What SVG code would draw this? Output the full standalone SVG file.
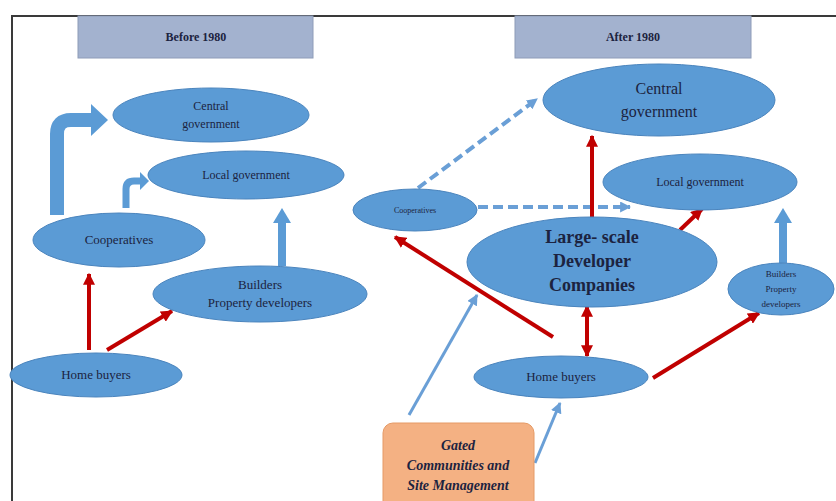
<svg xmlns="http://www.w3.org/2000/svg" width="836" height="501" viewBox="0 0 836 501">
<style>
.node{fill:#5b9bd5;stroke:#4a84bd;stroke-width:1}
.hdr{fill:#a3b2cf;stroke:#8e9cb8;stroke-width:1}
.t{font-family:"Liberation Serif",serif;fill:#1c2340;text-anchor:middle}
.red{stroke:#c00000;fill:none;stroke-width:4}
.blk{fill:none;stroke:#5b9bd5}
.dash{fill:none;stroke:#6a9fd6;stroke-width:4;stroke-dasharray:10 5}
.thin{fill:none;stroke:#6a9fd6;stroke-width:3}
</style>
<defs>
<marker id="ar" viewBox="0 0 10 10" refX="9" refY="5" markerWidth="12" markerHeight="12" markerUnits="userSpaceOnUse" orient="auto-start-reverse"><path d="M0,0 L10,5 L0,10 z" fill="#c00000"/></marker>
<marker id="ab" viewBox="0 0 10 10" refX="9" refY="5" markerWidth="11" markerHeight="11" markerUnits="userSpaceOnUse" orient="auto"><path d="M0,0 L10,5 L0,10 z" fill="#6a9fd6"/></marker>
</defs>
<rect width="836" height="501" fill="#ffffff"/>
<path d="M12,501 V16 H836" fill="none" stroke="#3a3a3a" stroke-width="2"/>

<g id="hdr-before"><rect class="hdr" x="78" y="16" width="235" height="42"/><text class="t" x="196" y="41" font-size="12" font-weight="bold">Before 1980</text></g>
<g id="hdr-after"><rect class="hdr" x="515" y="16" width="236" height="42"/><text class="t" x="633" y="41" font-size="12" font-weight="bold">After 1980</text></g>

<g id="connectors">
<!-- left blue block arrows -->
<path class="blk" stroke-width="14" d="M57,215 V134 Q57,120 71,120 H93"/>
<polygon points="91,104 108,120 91,136" fill="#5b9bd5"/>
<path class="blk" stroke-width="7" d="M126,208 V189 Q126,181 134,181 H141"/>
<polygon points="140,172 149,181 140,190" fill="#5b9bd5"/>
<path class="blk" stroke-width="8" d="M282,266 V221"/>
<polygon points="273,223 282,208 291,223" fill="#5b9bd5"/>
<!-- left red -->
<line class="red" x1="89" y1="350" x2="89" y2="274" marker-end="url(#ar)"/>
<line class="red" x1="107" y1="350" x2="172" y2="311" marker-end="url(#ar)"/>
<!-- right -->
<line class="dash" x1="418" y1="188" x2="537" y2="99" marker-end="url(#ab)"/>
<line class="dash" x1="478" y1="207" x2="630" y2="207" marker-end="url(#ab)"/>
<line class="red" stroke-width="5" x1="592" y1="218" x2="592" y2="136" marker-end="url(#ar)"/>
<line class="red" stroke-width="5" x1="680" y1="230" x2="702" y2="209" marker-end="url(#ar)"/>
<path class="blk" stroke-width="8" d="M783,263 V221"/>
<polygon points="774,223 783,208 792,223" fill="#5b9bd5"/>
<line class="red" stroke-width="5" x1="553" y1="337" x2="395" y2="237" marker-end="url(#ar)"/>
<line class="red" stroke-width="3" x1="587" y1="306" x2="587" y2="356" marker-start="url(#ar)" marker-end="url(#ar)"/>
<line class="red" stroke-width="5" x1="653" y1="378" x2="759" y2="313" marker-end="url(#ar)"/>
<line class="thin" x1="409" y1="415" x2="477" y2="295" marker-end="url(#ab)"/>
<line class="thin" x1="535" y1="463" x2="560" y2="403" marker-end="url(#ab)"/>
</g>

<g id="l-central"><ellipse class="node" cx="211" cy="115" rx="98" ry="27"/><text class="t" x="211" y="110" font-size="12">Central</text><text class="t" x="211" y="128" font-size="12">government</text></g>
<g id="l-local"><ellipse class="node" cx="246" cy="175" rx="98" ry="24"/><text class="t" x="246" y="179" font-size="12">Local government</text></g>
<g id="l-coop"><ellipse class="node" cx="119" cy="240" rx="86" ry="27"/><text class="t" x="119" y="244" font-size="13">Cooperatives</text></g>
<g id="l-builders"><ellipse class="node" cx="260" cy="294" rx="107" ry="28"/><text class="t" x="260" y="289" font-size="13">Builders</text><text class="t" x="260" y="307" font-size="13">Property developers</text></g>
<g id="l-home"><ellipse class="node" cx="96" cy="375" rx="86" ry="22"/><text class="t" x="96" y="379" font-size="13">Home buyers</text></g>

<g id="r-central"><ellipse class="node" cx="659" cy="100" rx="116" ry="36"/><text class="t" x="659" y="94" font-size="16">Central</text><text class="t" x="659" y="117" font-size="16">government</text></g>
<g id="r-local"><ellipse class="node" cx="700" cy="182" rx="97" ry="28"/><text class="t" x="700" y="186" font-size="12">Local government</text></g>
<g id="r-coop"><ellipse class="node" cx="415" cy="210" rx="62" ry="21"/><text class="t" x="415" y="213" font-size="8">Cooperatives</text></g>
<g id="r-large"><ellipse class="node" cx="592" cy="262" rx="125" ry="45"/><text class="t" x="592" y="243" font-size="18" font-weight="bold">Large- scale</text><text class="t" x="592" y="267" font-size="18" font-weight="bold">Developer</text><text class="t" x="592" y="291" font-size="18" font-weight="bold">Companies</text></g>
<g id="r-builders"><ellipse class="node" cx="781" cy="289" rx="53" ry="26"/><text class="t" x="781" y="277" font-size="9">Builders</text><text class="t" x="781" y="292" font-size="9">Property</text><text class="t" x="781" y="307" font-size="9">developers</text></g>
<g id="r-home"><ellipse class="node" cx="561" cy="377" rx="87" ry="21"/><text class="t" x="561" y="381" font-size="13">Home buyers</text></g>
<g id="gated"><rect x="383" y="423" width="151" height="90" rx="10" fill="#f4b183" stroke="#e59a66" stroke-width="1"/><text class="t" x="458" y="450" font-size="14" font-weight="bold" font-style="italic">Gated</text><text class="t" x="458" y="470" font-size="14" font-weight="bold" font-style="italic">Communities and</text><text class="t" x="458" y="490" font-size="14" font-weight="bold" font-style="italic">Site Management</text></g>
</svg>
